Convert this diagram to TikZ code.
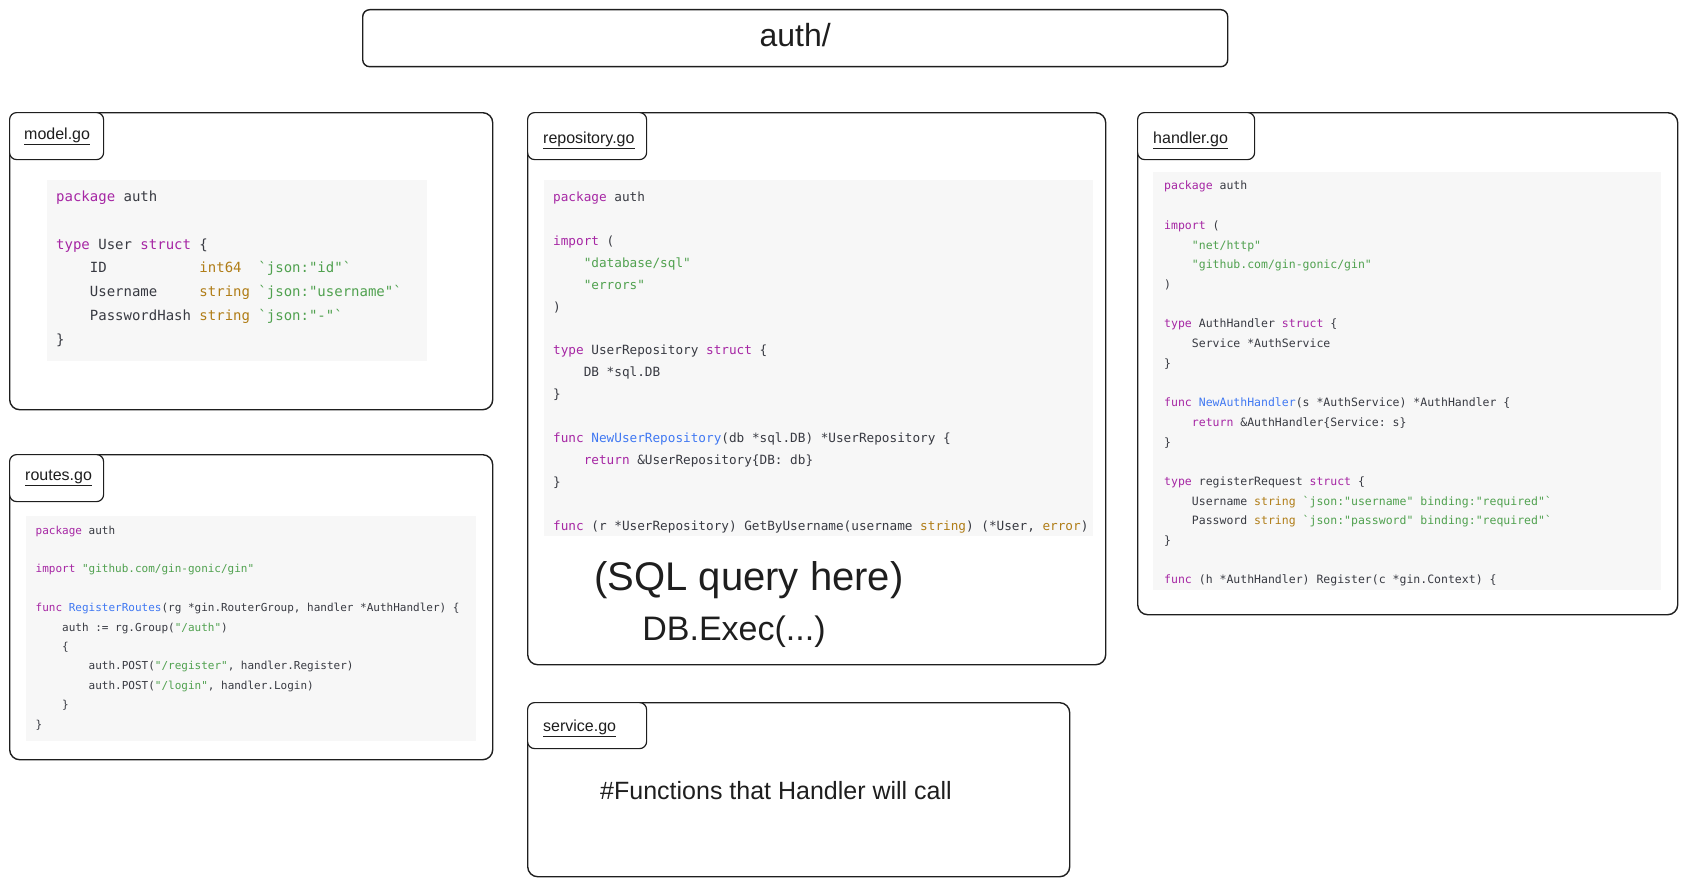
\documentclass[tikz,border=0pt]{standalone}
\usepackage{fontspec}
\setmainfont{Liberation Sans}
\setmonofont{DejaVu Sans Mono}
\definecolor{ink}{HTML}{1E1E1E}
\definecolor{panelgray}{HTML}{F7F7F7}
\definecolor{codetxt}{HTML}{383A42}
\definecolor{kwcol}{HTML}{A626A4}
\definecolor{strcol}{HTML}{50A14F}
\definecolor{typcol}{HTML}{B07D17}
\definecolor{fncol}{HTML}{4078F2}
\newcommand{\gokw}[1]{\textcolor{kwcol}{#1}}
\newcommand{\gostr}[1]{\textcolor{strcol}{#1}}
\newcommand{\gotype}[1]{\textcolor{typcol}{#1}}
\newcommand{\gofn}[1]{\textcolor{fncol}{#1}}
\newcommand{\blankline}{\mbox{}}
\tikzset{
  filebox/.style={draw=ink, line width=1.4pt, rounded corners=10pt, anchor=north west, inner sep=0pt},
  tabbox/.style={draw=ink, line width=1.2pt, rounded corners=7pt, fill=white, anchor=north west,
    inner sep=0pt, minimum height=47pt},
  tablabel/.style={anchor=west, inner sep=0pt, text=ink, font=\fontsize{16}{19}\selectfont},
  codepanel/.style={fill=panelgray, anchor=north west, inner sep=0pt},
  codetext/.style={anchor=north west, inner sep=0pt, align=left, text=codetxt},
  handnote/.style={text=ink}
}
\begin{document}
\begin{tikzpicture}[x=1pt, y=-1pt]
    \useasboundingbox (0,0) rectangle (1688,891);
    % title
    \node[filebox, rounded corners=7pt, minimum width=865pt, minimum height=57pt] (title) at (362,9) {};
    \node[text=ink, font=\fontsize{32}{38}\selectfont] (titletext) at ([yshift=3pt]title.center) {auth/};
    % model.go
    \node[filebox, minimum width=483pt, minimum height=297pt] (modelbox) at (9,112) {};
    \node[codepanel, minimum width=380pt, minimum height=181pt] (modelpanel) at (47,180) {};
    \node[tabbox, minimum width=94pt] (modeltab) at (9,112) {};
    \node[tablabel] (modellabel) at ([xshift=15pt]modeltab.west) {\underline{model.go}};
    \node[codetext, font=\ttfamily\fontsize{14}{23.7}\selectfont] (modelcode) at (56,191) {%
      \gokw{package} auth\\
      \blankline\\
      \gokw{type} User \gokw{struct} \{\\
      ~~~~ID~~~~~~~~~~~\gotype{int64}~~\gostr{`json:"id"`}\\
      ~~~~Username~~~~~\gotype{string}~\gostr{`json:"username"`}\\
      ~~~~PasswordHash~\gotype{string}~\gostr{`json:"-"`}\\
      \}};
    % routes.go
    \node[filebox, minimum width=483pt, minimum height=305pt] (routesbox) at (9,454) {};
    \node[codepanel, minimum width=450pt, minimum height=225pt] (routespanel) at (26,516) {};
    \node[tabbox, minimum width=94pt] (routestab) at (9,454) {};
    \node[tablabel] (routeslabel) at ([xshift=16pt]routestab.west) {\underline{routes.go}};
    \node[codetext, font=\ttfamily\fontsize{11}{19.4}\selectfont] (routescode) at (35.5,525.5) {%
      \gokw{package} auth\\
      \blankline\\
      \gokw{import} \gostr{"github.com/gin-gonic/gin"}\\
      \blankline\\
      \gokw{func} \gofn{RegisterRoutes}(rg *gin.RouterGroup, handler *AuthHandler) \{\\
      ~~~~auth := rg.Group(\gostr{"/auth"})\\
      ~~~~\{\\
      ~~~~~~~~auth.POST(\gostr{"/register"}, handler.Register)\\
      ~~~~~~~~auth.POST(\gostr{"/login"}, handler.Login)\\
      ~~~~\}\\
      \}};
    % repository.go
    \node[filebox, minimum width=578pt, minimum height=552pt] (repobox) at (527,112) {};
    \node[codepanel, minimum width=549pt, minimum height=356pt] (repopanel) at (544,180) {};
    \node[tabbox, minimum width=119pt] (repotab) at (527,112) {};
    \node[tablabel] (repolabel) at ([xshift=16pt,yshift=-4pt]repotab.west) {\underline{repository.go}};
    \node[codetext, font=\ttfamily\fontsize{12.7}{21.9}\selectfont] (repocode) at (553,191.7) {%
      \gokw{package} auth\\
      \blankline\\
      \gokw{import} (\\
      ~~~~\gostr{"database/sql"}\\
      ~~~~\gostr{"errors"}\\
      )\\
      \blankline\\
      \gokw{type} UserRepository \gokw{struct} \{\\
      ~~~~DB *sql.DB\\
      \}\\
      \blankline\\
      \gokw{func} \gofn{NewUserRepository}(db *sql.DB) *UserRepository \{\\
      ~~~~\gokw{return} \&UserRepository\{DB: db\}\\
      \}\\
      \blankline\\
      \gokw{func} (r *UserRepository) GetByUsername(username \gotype{string}) (*User, \gotype{error})};
    \node[handnote, font=\fontsize{40}{46}\selectfont] (sqlnote) at (749,580) {(SQL query here)};
    \node[handnote, font=\fontsize{34}{40}\selectfont] (execnote) at (734,632) {DB.Exec(...)};
    % handler.go
    \node[filebox, minimum width=540pt, minimum height=502pt] (handlerbox) at (1137,112) {};
    \node[codepanel, minimum width=508pt, minimum height=418pt] (handlerpanel) at (1153,172) {};
    \node[tabbox, minimum width=117pt] (handlertab) at (1137,112) {};
    \node[tablabel] (handlerlabel) at ([xshift=16pt,yshift=-4pt]handlertab.west) {\underline{handler.go}};
    \node[codetext, font=\ttfamily\fontsize{11.5}{19.7}\selectfont] (handlercode) at (1164,181) {%
      \gokw{package} auth\\
      \blankline\\
      \gokw{import} (\\
      ~~~~\gostr{"net/http"}\\
      ~~~~\gostr{"github.com/gin-gonic/gin"}\\
      )\\
      \blankline\\
      \gokw{type} AuthHandler \gokw{struct} \{\\
      ~~~~Service *AuthService\\
      \}\\
      \blankline\\
      \gokw{func} \gofn{NewAuthHandler}(s *AuthService) *AuthHandler \{\\
      ~~~~\gokw{return} \&AuthHandler\{Service: s\}\\
      \}\\
      \blankline\\
      \gokw{type} registerRequest \gokw{struct} \{\\
      ~~~~Username \gotype{string} \gostr{`json:"username" binding:"required"`}\\
      ~~~~Password \gotype{string} \gostr{`json:"password" binding:"required"`}\\
      \}\\
      \blankline\\
      \gokw{func} (h *AuthHandler) Register(c *gin.Context) \{};
    % service.go
    \node[filebox, minimum width=542pt, minimum height=174pt] (servicebox) at (527,702) {};
    \node[tabbox, minimum width=119pt, minimum height=46pt] (servicetab) at (527,702) {};
    \node[tablabel] (servicelabel) at ([xshift=16pt,yshift=-3pt]servicetab.west) {\underline{service.go}};
    \node[text=ink, font=\fontsize{25}{30}\selectfont] (servicenote) at (776,791) {\#Functions that Handler will call};
\end{tikzpicture}
\end{document}
